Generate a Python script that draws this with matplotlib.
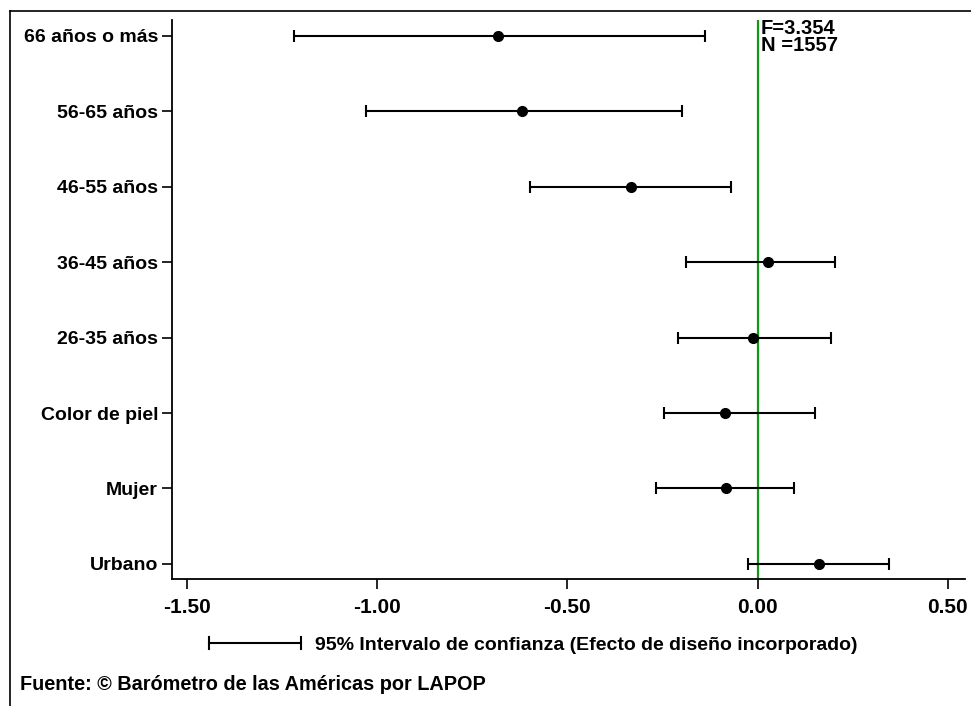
import matplotlib
matplotlib.use("Agg")
import matplotlib.pyplot as plt
from matplotlib.lines import Line2D

# data
labels = ["Urbano", "Mujer", "Color de piel", "26-35 años", "36-45 años",
          "46-55 años", "56-65 años", "66 años o más"]
coef = [0.161, -0.084, -0.087, -0.011, 0.026, -0.334, -0.618, -0.682]
ci_low = [-0.024, -0.266, -0.247, -0.208, -0.189, -0.597, -1.029, -1.218]
ci_high = [0.345, 0.095, 0.150, 0.192, 0.203, -0.071, -0.200, -0.137]
xticks = [-1.5, -1.0, -0.5, 0.0, 0.5]
stats_text = "F=3.354\nN =1557"

plt.rcParams['font.family'] = ['Liberation Sans', 'DejaVu Sans']
plt.rcParams['font.weight'] = 'bold'

fig = plt.figure(figsize=(9.71, 7.06), dpi=100)
ax = fig.add_axes([172/971, 1 - 579/706, (965 - 172)/971, (579 - 20)/706])

ypos = list(range(len(labels)))
err_lo = [c - l for c, l in zip(coef, ci_low)]
err_hi = [h - c for c, h in zip(coef, ci_high)]
ax.errorbar(coef, ypos, xerr=[err_lo, err_hi], fmt='o', color='black',
            ecolor='black', elinewidth=1.5, capsize=4.3, capthick=1.5,
            markersize=7, zorder=3)
ax.axvline(0, color='#119911', lw=1.6, zorder=2)

ax.set_xlim(-1.539, 0.545)
ax.set_ylim(-0.2, 7.21)
ax.set_yticks(ypos)
ax.set_yticklabels(labels)
ax.set_xticks(xticks)
ax.set_xticklabels(["%.2f" % t for t in xticks])
ax.tick_params(axis='both', width=1.2, length=7, direction='out')
ax.tick_params(axis='y', labelsize=14, pad=3)
ax.tick_params(axis='x', labelsize=15, pad=7)
for s in ['top', 'right']:
    ax.spines[s].set_visible(False)
for s in ['left', 'bottom']:
    ax.spines[s].set_linewidth(1.3)

ax.text(0.008, 7.22, stats_text, fontsize=14.5, fontweight='bold',
        va='top', ha='left', linespacing=0.85)

# legend line below the axis
fig.add_artist(Line2D([209/971, 301/971], [1 - 643/706] * 2, color='black', lw=1.5))
for xx in [209/971, 301/971]:
    fig.add_artist(Line2D([xx, xx], [1 - 637/706, 1 - 649/706], color='black', lw=1.5))
fig.text(315/971, 1 - 645/706, "95% Intervalo de confianza (Efecto de diseño incorporado)",
         fontsize=14, fontweight='bold', va='center', ha='left')
fig.text(20/971, 1 - 685/706, "Fuente: © Barómetro de las Américas por LAPOP",
         fontsize=14.3, fontweight='bold', va='center', ha='left')

# outer frame
fig.add_artist(Line2D([10/971, 10/971], [0, 1 - 11/706], color='black', lw=1.2))
fig.add_artist(Line2D([10/971, 1], [1 - 11/706] * 2, color='black', lw=1.2))

fig.savefig("out.png", dpi=100)
